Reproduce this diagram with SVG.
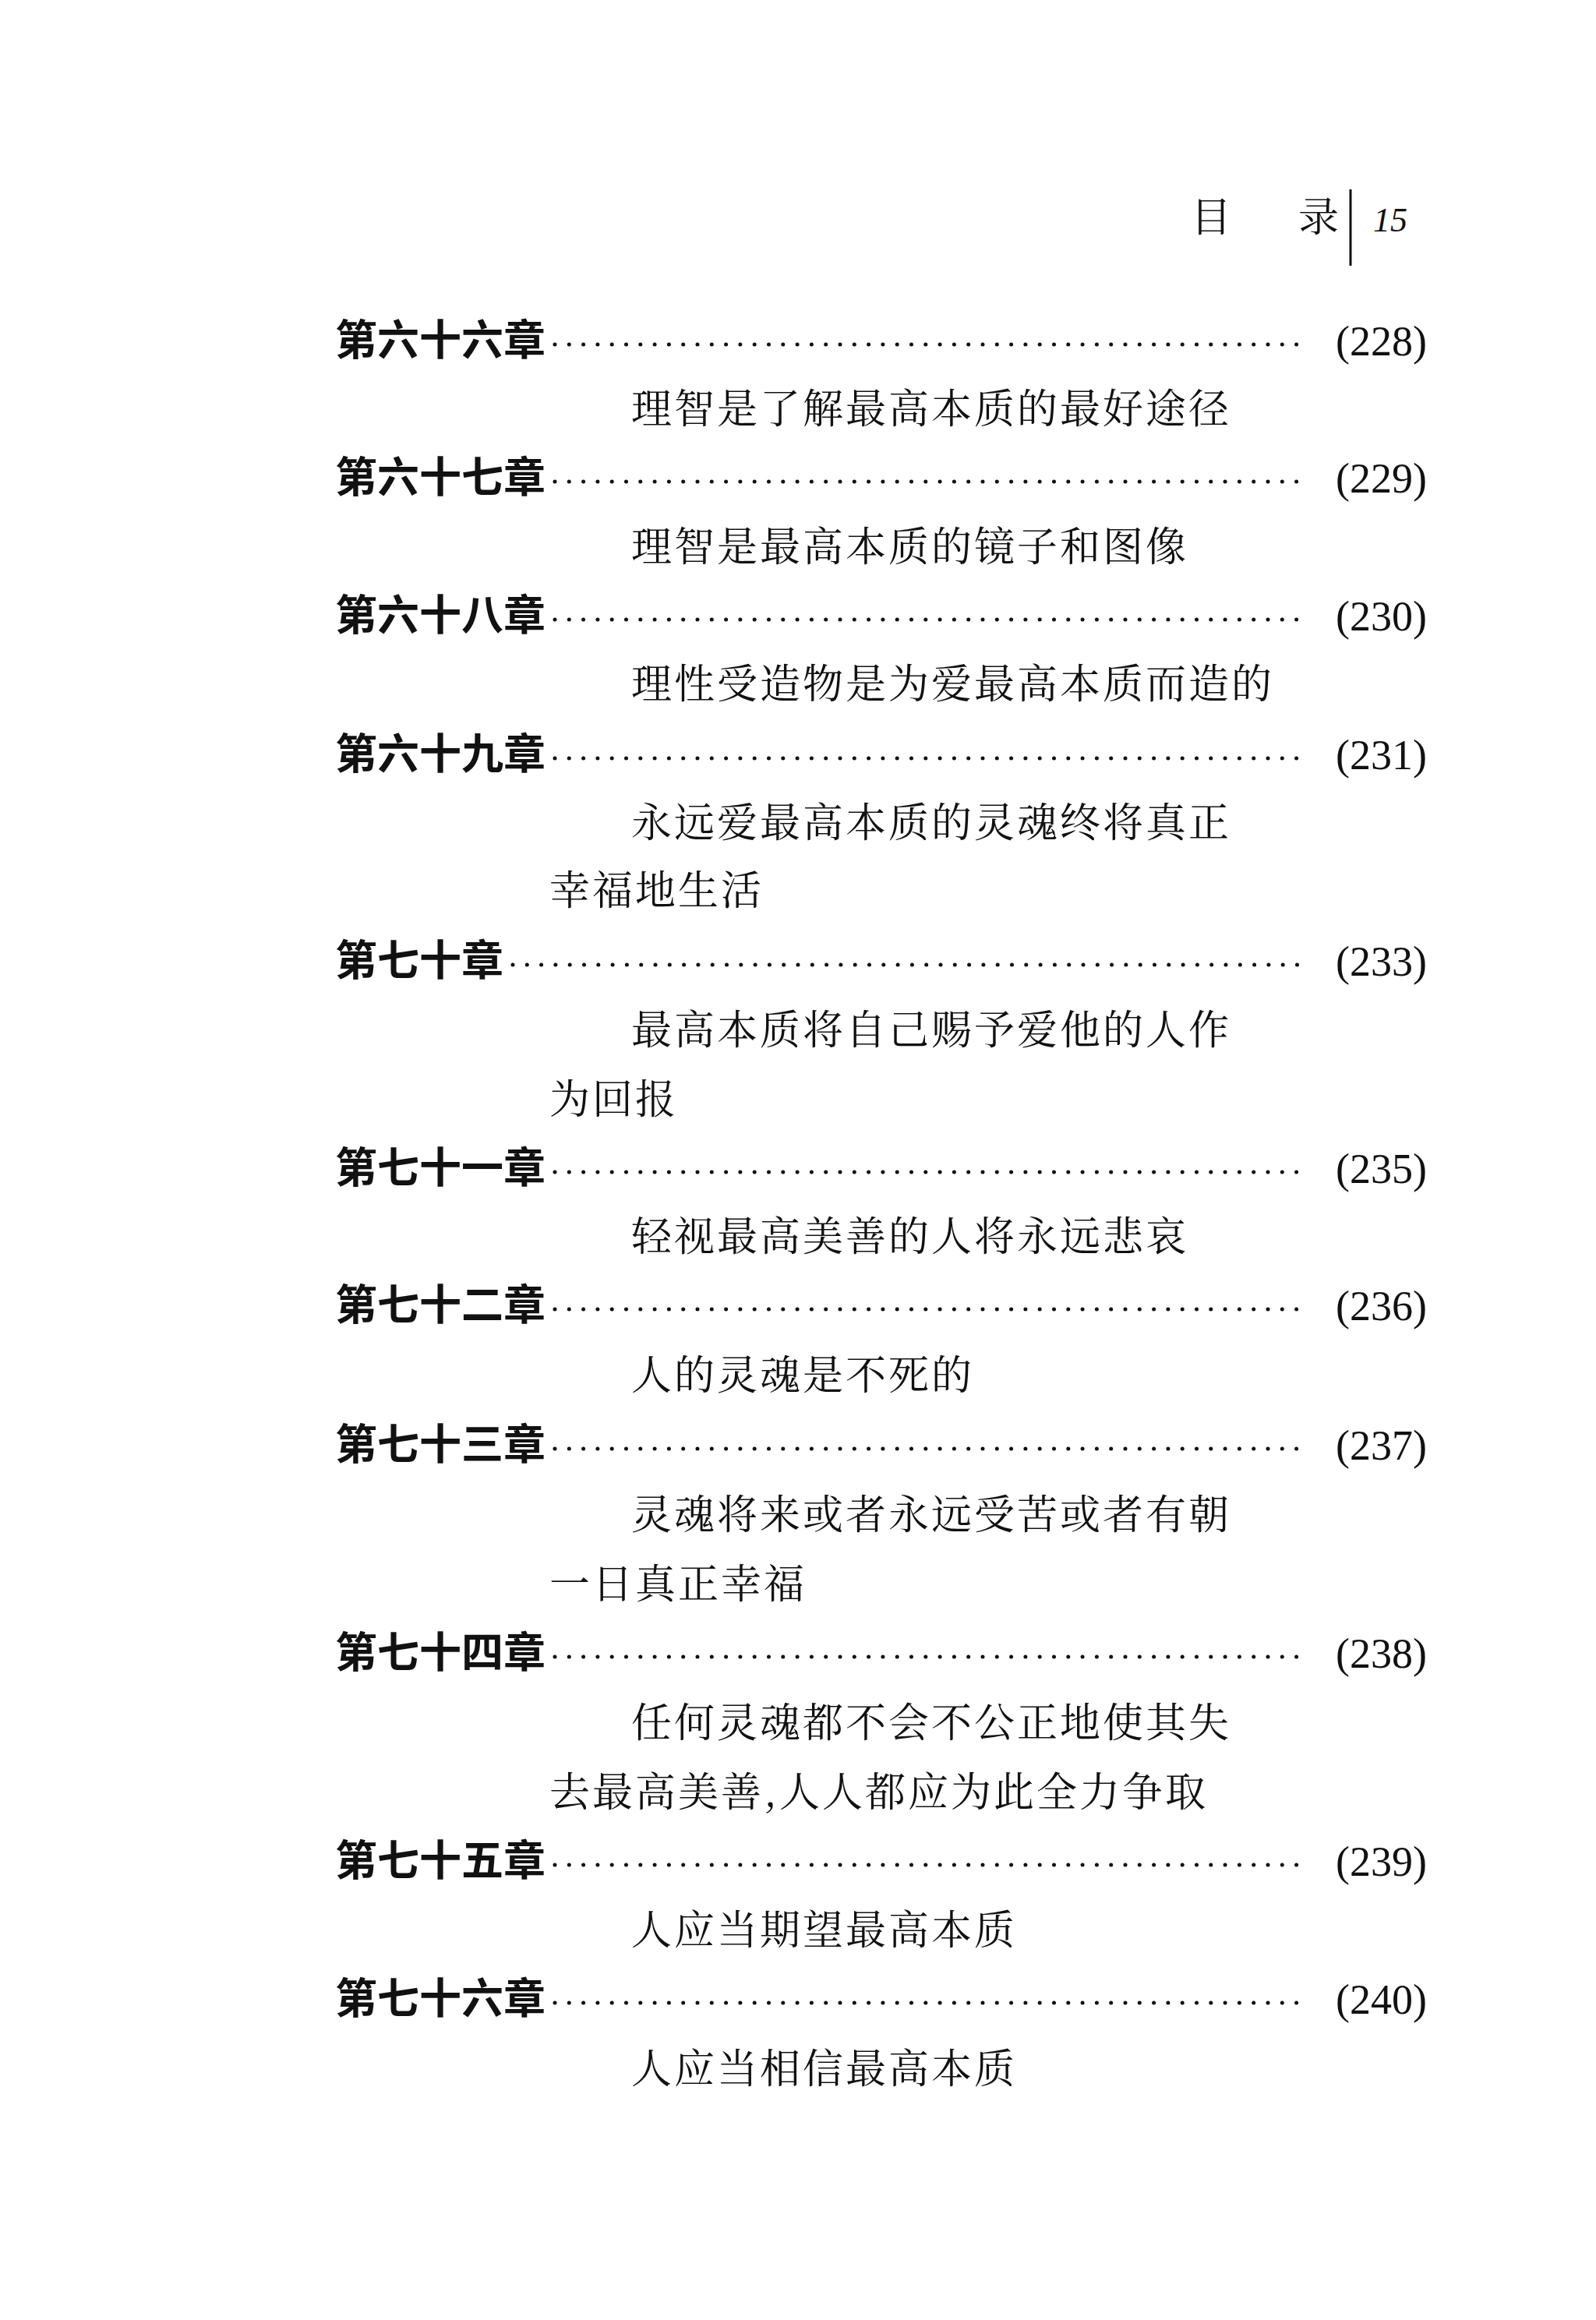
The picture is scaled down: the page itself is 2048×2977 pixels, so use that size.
<svg xmlns="http://www.w3.org/2000/svg" width="2048" height="2977" viewBox="0 0 2048 2977">
<style>
.h{font-family:"Noto Sans CJK SC",sans-serif;font-weight:bold;font-size:54px;fill:#111}
.t{font-family:"Noto Serif CJK SC","Noto Sans CJK SC",serif;font-size:52px;fill:#111;letter-spacing:3px}
.p{font-family:"Liberation Serif",serif;font-size:54px;fill:#111}
.d{stroke:#111;stroke-width:5;stroke-linecap:round;stroke-dasharray:0 18.3}
</style>
<rect width="2048" height="2977" fill="#fff"/>
<text class="t" x="1528" y="297" font-size="40">目</text>
<text class="t" x="1666" y="297" font-size="40">录</text>
<line x1="1733" y1="243" x2="1733" y2="341" stroke="#111" stroke-width="3"/>
<text x="1762" y="297" font-family="Liberation Serif,serif" font-style="italic" font-size="44" fill="#111">15</text>
<g id="c66"><text class="h" x="430" y="456">第六十六章</text><line class="d" x1="712" y1="442" x2="1680" y2="442"/><text class="p" x="1714" y="456">(228)</text></g>
<text class="t" x="810" y="543">理智是了解最高本质的最好途径</text>
<g id="c67"><text class="h" x="430" y="632">第六十七章</text><line class="d" x1="712" y1="618" x2="1680" y2="618"/><text class="p" x="1714" y="632">(229)</text></g>
<text class="t" x="810" y="720">理智是最高本质的镜子和图像</text>
<g id="c68"><text class="h" x="430" y="809">第六十八章</text><line class="d" x1="712" y1="795" x2="1680" y2="795"/><text class="p" x="1714" y="809">(230)</text></g>
<text class="t" x="810" y="896">理性受造物是为爱最高本质而造的</text>
<g id="c69"><text class="h" x="430" y="987">第六十九章</text><line class="d" x1="712" y1="973" x2="1680" y2="973"/><text class="p" x="1714" y="987">(231)</text></g>
<text class="t" x="810" y="1074">永远爱最高本质的灵魂终将真正</text>
<text class="t" x="705" y="1161">幸福地生活</text>
<g id="c70"><text class="h" x="430" y="1252">第七十章</text><line class="d" x1="658" y1="1238" x2="1680" y2="1238"/><text class="p" x="1714" y="1252">(233)</text></g>
<text class="t" x="810" y="1340">最高本质将自己赐予爱他的人作</text>
<text class="t" x="705" y="1429">为回报</text>
<g id="c71"><text class="h" x="430" y="1518">第七十一章</text><line class="d" x1="712" y1="1504" x2="1680" y2="1504"/><text class="p" x="1714" y="1518">(235)</text></g>
<text class="t" x="810" y="1605">轻视最高美善的人将永远悲哀</text>
<g id="c72"><text class="h" x="430" y="1694">第七十二章</text><line class="d" x1="712" y1="1680" x2="1680" y2="1680"/><text class="p" x="1714" y="1694">(236)</text></g>
<text class="t" x="810" y="1783">人的灵魂是不死的</text>
<g id="c73"><text class="h" x="430" y="1873">第七十三章</text><line class="d" x1="712" y1="1859" x2="1680" y2="1859"/><text class="p" x="1714" y="1873">(237)</text></g>
<text class="t" x="810" y="1962">灵魂将来或者永远受苦或者有朝</text>
<text class="t" x="705" y="2051">一日真正幸福</text>
<g id="c74"><text class="h" x="430" y="2140">第七十四章</text><line class="d" x1="712" y1="2126" x2="1680" y2="2126"/><text class="p" x="1714" y="2140">(238)</text></g>
<text class="t" x="810" y="2229">任何灵魂都不会不公正地使其失</text>
<text class="t" x="705" y="2318">去最高美善,人人都应为此全力争取</text>
<g id="c75"><text class="h" x="430" y="2407">第七十五章</text><line class="d" x1="712" y1="2393" x2="1680" y2="2393"/><text class="p" x="1714" y="2407">(239)</text></g>
<text class="t" x="810" y="2495">人应当期望最高本质</text>
<g id="c76"><text class="h" x="430" y="2584">第七十六章</text><line class="d" x1="712" y1="2570" x2="1680" y2="2570"/><text class="p" x="1714" y="2584">(240)</text></g>
<text class="t" x="810" y="2673">人应当相信最高本质</text>
</svg>
